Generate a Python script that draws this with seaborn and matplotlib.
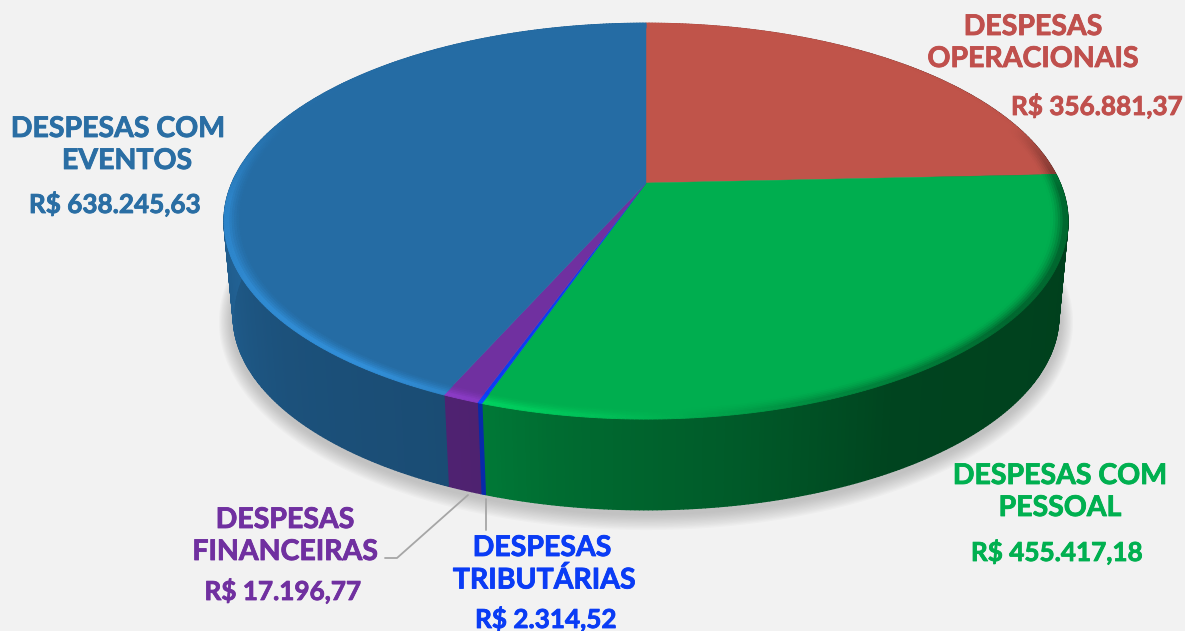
import numpy as np
import matplotlib
matplotlib.use('Agg')
import matplotlib.pyplot as plt
import matplotlib.patheffects as pe
from matplotlib.collections import PolyCollection
from matplotlib.colors import to_rgb
import seaborn as sns

# values, clockwise from the top of the pie
categories = ['DESPESAS\nOPERACIONAIS', 'DESPESAS COM\nPESSOAL', 'DESPESAS\nTRIBUTÁRIAS',
              'DESPESAS\nFINANCEIRAS', 'DESPESAS COM\nEVENTOS']
values = [356881.37, 455417.18, 2314.52, 17196.77, 638245.63]
value_labels = ['R$ 356.881,37', 'R$ 455.417,18', 'R$ 2.314,52', 'R$ 17.196,77', 'R$ 638.245,63']
pie_colors = ['#C0544A', '#00AE4F', '#0A3CF5', '#7030A0', '#256CA4']
text_colors = ['#C0504D', '#00B050', '#0A3CF5', '#7030A0', '#2A6EA4']

BG = '#F2F2F2'
CX, CY, A, B, K = 646, 183, 414, 190.5, 0.193
CY2, A2, B2 = 279, 405, 186.2

sns.set_theme(style='white', rc={'figure.facecolor': BG, 'axes.facecolor': BG})
plt.rcParams['font.family'] = ['Lato', 'DejaVu Sans']
palette = sns.color_palette(pie_colors)


def top_xy(t, r=1.0, cy=CY, a=A, b=B):
    u = r * np.sin(np.radians(t))
    v = r * np.cos(np.radians(t))
    d = 1 + K * v
    return np.column_stack([CX + a * u / d, cy - b * v / d])


def shade(color, f):
    return tuple(np.clip(np.array(to_rgb(color)) * f, 0, 1))


def side_factor(t):
    return np.interp(t, [0, 90, 150, 170, 190, 200, 230, 270, 360],
                     [.9, .36, .39, .52, .62, .7, .75, .9, .9])


def rim_factor(t):
    return np.interp(t, [0, 72, 92, 130, 160, 185, 215, 265, 290, 330, 360],
                     [1, 1, .6, .6, .8, 1.1, 1.32, 1.22, 1.02, 1, 1])


def quads(ts, r0, r1, cy0=CY, a0=A, b0=B, cy1=CY, a1=A, b1=B):
    p0 = top_xy(ts, r0, cy0, a0, b0)
    p1 = top_xy(ts, r1, cy1, a1, b1)
    return [np.array([p0[i], p0[i + 1], p1[i + 1], p1[i]]) for i in range(len(ts) - 1)]


fig = plt.figure(figsize=(11.85, 6.31), dpi=100)
ax = fig.add_axes([0, 0, 1, 1])
ax.set_xlim(0, 1185)
ax.set_ylim(631, 0)
ax.axis('off')

# soft shadow under the disc
all_t = np.linspace(0, 360, 361)
for i in range(12):
    grow = 14 - i * 1.1
    ax.fill(*top_xy(all_t, 1.0, CY2 + 3, A2 + grow, B2 + grow).T, color='#808080', alpha=0.04, lw=0, zorder=1)

edges = np.concatenate([[0], np.cumsum(values)]) / np.sum(values) * 360

for i, color in enumerate(palette):
    ts = np.linspace(edges[i], edges[i + 1], max(3, int(edges[i + 1] - edges[i]) * 2))
    mids = (ts[:-1] + ts[1:]) / 2

    # outer wall
    side = PolyCollection(quads(ts, 1, 1, CY, A, B, CY2, A2, B2),
                          facecolors=[shade(color, f) for f in side_factor(mids)],
                          edgecolors='face', linewidths=1.0, zorder=2)
    ax.add_collection(side)

    # flat top
    poly = np.vstack([[[CX, CY]], top_xy(ts, 0.99)])
    ax.fill(*poly.T, color=color, lw=0.3, zorder=3)

    # bevel along the rim
    bands = np.linspace(0.962, 1.0, 8)
    for r0, r1 in zip(bands[:-1], bands[1:]):
        bump = np.clip(((r0 + r1) / 2 - 0.962) / 0.03, 0, 1) ** 1.5
        fs = 1 + (rim_factor(mids) - 1) * bump
        ax.add_collection(PolyCollection(quads(ts, r0, r1),
                                         facecolors=[shade(color, f) for f in fs],
                                         edgecolors='face', linewidths=0.6, zorder=4))

# leader lines
ax.plot([468, 397, 385], [495, 558, 558], color='#A6A6A6', lw=1.3, zorder=5)
ax.plot([486, 486], [499, 530], color='#A6A6A6', lw=1.3, zorder=5)

# labels: x, y of each text line
name_pos = [[(1033, 27), (1033, 59)], [(1060, 476), (1060, 508)], [(542, 548), (544, 580)],
            [(285, 520), (285, 552)], [(118, 129), (127, 161)]]
value_pos = [(1097, 106), (1057, 552), (546, 619), (283, 591), (115, 204)]
for name, label, lines, vpos, col in zip(categories, value_labels, name_pos, value_pos, text_colors):
    heavy = [pe.withStroke(linewidth=0.6, foreground=col)]
    for part, (x, y) in zip(name.split('\n'), lines):
        ax.text(x, y, part, color=col, fontsize=20.5, fontweight='bold', ha='center', va='center',
                zorder=6, path_effects=heavy)
    ax.text(vpos[0], vpos[1], label, color=col, fontsize=18.8, fontweight='bold', ha='center', va='center',
            zorder=6, path_effects=heavy)

fig.savefig('out.png', dpi=100, facecolor=BG)
